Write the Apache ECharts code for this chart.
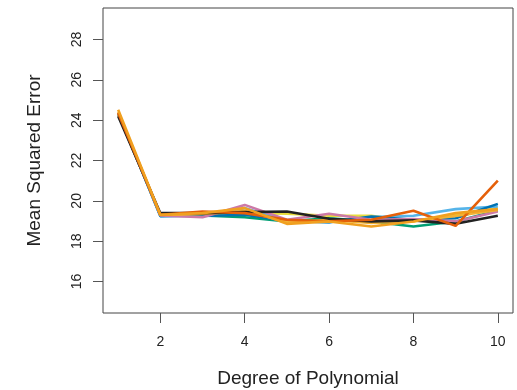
<!DOCTYPE html>
<html>
<head>
<meta charset="utf-8">
<script src="https://cdn.jsdelivr.net/npm/echarts@6/dist/echarts.min.js"></script>
<style>
  html, body { margin: 0; padding: 0; background: #fff; }
  #chart { width: 517px; height: 390px; }
</style>
</head>
<body>
<div id="chart"></div>
<script>
// degree of polynomial on the x axis
const degrees = [1, 2, 3, 4, 5, 6, 7, 8, 9, 10]
const xTicks = [2, 4, 6, 8, 10]
const yTicks = [16, 18, 20, 22, 24, 26, 28]

// nine runs of 10-fold CV
const runGreen = [24.30, 19.28, 19.28, 19.19, 18.98, 19.14, 18.98, 18.73, 18.98, 19.52]
const runYellow = [24.30, 19.30, 19.35, 19.40, 19.36, 19.26, 19.26, 18.98, 19.31, 19.64]
const runSky = [24.35, 19.23, 19.31, 19.64, 19.00, 18.94, 19.20, 19.26, 19.59, 19.72]
const runBlue = [24.35, 19.25, 19.25, 19.31, 19.00, 18.94, 19.22, 19.06, 19.14, 19.85]
const runPink = [24.35, 19.28, 19.19, 19.80, 19.06, 19.36, 19.06, 19.10, 18.98, 19.47]
const runLightOrange = [24.40, 19.30, 19.35, 19.50, 18.95, 19.05, 18.90, 19.00, 19.25, 19.55]
const runBlack = [24.19, 19.39, 19.39, 19.44, 19.47, 19.11, 18.98, 19.03, 18.86, 19.26]
const runVermillion = [24.35, 19.31, 19.47, 19.39, 19.06, 18.98, 19.06, 19.51, 18.76, 21.00]
const runOrange = [24.52, 19.31, 19.39, 19.64, 18.86, 18.98, 18.73, 18.98, 19.39, 19.59]

const runs = [
  { values: runGreen, color: '#009E73' },
  { values: runYellow, color: '#E8DC3C' },
  { values: runSky, color: '#56B4E9' },
  { values: runBlue, color: '#0072B2' },
  { values: runPink, color: '#CC79A7' },
  { values: runLightOrange, color: '#F2B134' },
  { values: runBlack, color: '#222222' },
  { values: runVermillion, color: '#E5600A' },
  { values: runOrange, color: '#F0A020' },
]

const chart = echarts.init(document.getElementById('chart'))
const font = 'Liberation Sans, Arial, Helvetica, sans-serif'

chart.setOption({
  animation: false,
  grid: {
    left: 103,
    right: 4,
    top: 8,
    bottom: 77,
    outerBoundsMode: 'none',
    containLabel: false,
    show: true,
    borderColor: '#444',
    borderWidth: 1,
  },
  xAxis: {
    type: 'value',
    min: 0.64,
    max: 10.36,
    name: 'Degree of Polynomial',
    nameLocation: 'middle',
    nameGap: 56,
    nameTextStyle: { fontFamily: font, fontSize: 19, color: '#222' },
    axisLine: { show: false },
    splitLine: { show: false },
    axisTick: {
      show: true,
      length: 10,
      customValues: xTicks,
      lineStyle: { color: '#555', width: 1 },
    },
    axisLabel: {
      customValues: xTicks,
      margin: 22,
      fontFamily: font,
      fontSize: 14,
      color: '#222',
    },
  },
  yAxis: {
    type: 'value',
    min: 14.44,
    max: 29.56,
    name: 'Mean Squared Error',
    nameLocation: 'middle',
    nameGap: 59,
    nameTextStyle: { fontFamily: font, fontSize: 19, color: '#222' },
    axisLine: { show: false },
    splitLine: { show: false },
    axisTick: {
      show: true,
      length: 10,
      customValues: yTicks,
      lineStyle: { color: '#555', width: 1 },
    },
    axisLabel: {
      customValues: yTicks,
      rotate: 90,
      margin: 19,
      fontFamily: font,
      fontSize: 14,
      color: '#222',
    },
  },
  series: runs.map((r) => ({
    type: 'line',
    data: degrees.map((d, i) => [d, r.values[i]]),
    showSymbol: false,
    symbol: 'none',
    lineStyle: { color: r.color, width: 2.6 },
    z: 2,
  })),
})
</script>
</body>
</html>
